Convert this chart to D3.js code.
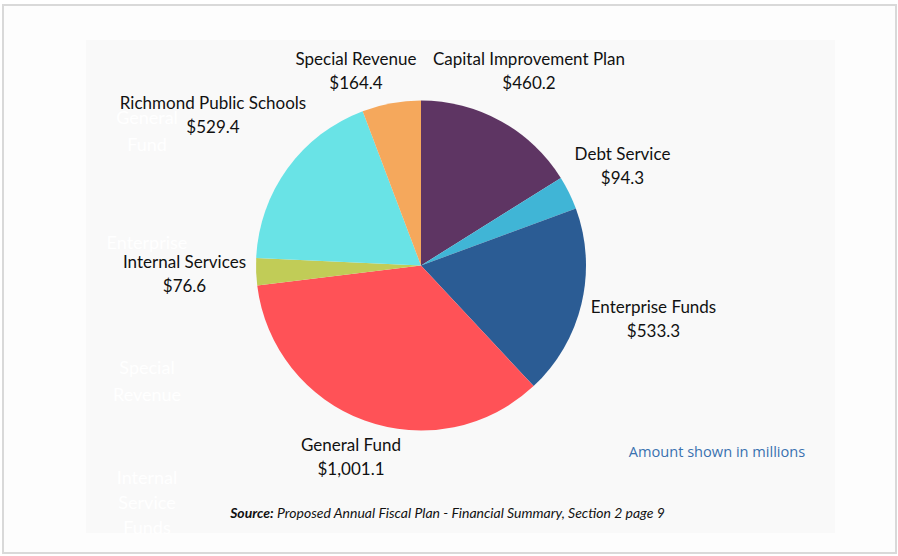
<!DOCTYPE html>
<html>
<head>
<meta charset="utf-8">
<script src="https://cdn.jsdelivr.net/npm/d3@7/dist/d3.min.js"></script>
<style>
  html, body { margin: 0; padding: 0; background: #ffffff; }
  svg { display: block; }
</style>
</head>
<body>
<svg id="chart" width="898" height="556"></svg>
<script>
// ---- data ----
const categories = ["Capital Improvement Plan", "Debt Service", "Enterprise Funds", "General Fund",
                    "Internal Services", "Richmond Public Schools", "Special Revenue"];
const values = [460.2, 94.3, 533.3, 1001.1, 76.6, 529.4, 164.4];
const valueLabels = ["$460.2", "$94.3", "$533.3", "$1,001.1", "$76.6", "$529.4", "$164.4"];
const colors = ["#5e3563", "#40b5d6", "#2b5c94", "#ff5257", "#c1cc57", "#69e3e6", "#f5a85c"];
const ghostLabels = [["General", "Fund"], ["Enterprise"], ["Special", "Revenue"], ["Internal", "Service", "Funds"]];
const note = "Amount shown in millions";
const sourceBold = "Source:";
const sourceText = " Proposed Annual Fiscal Plan - Financial Summary, Section 2 page 9";

// ---- layout ----
const svg = d3.select("#chart");
const cx = 421, cy = 265.5, R = 165;

// outer frame
svg.append("rect").attr("x", 3).attr("y", 5).attr("width", 893).attr("height", 548)
  .attr("fill", "#fdfdfd").attr("stroke", "#d9d9d9").attr("stroke-width", 2);
// inner panel
svg.append("rect").attr("x", 86).attr("y", 40).attr("width", 749).attr("height", 493)
  .attr("fill", "#f9f9f9");

// faint white text on the left (as in the reference)
const ghostPos = [[118, 145], [243], [368, 395], [478, 503, 528]];
const ghostG = svg.append("g").attr("font-family", "Lato, 'Open Sans', sans-serif")
  .attr("font-size", 18).attr("fill", "#ffffff").attr("text-anchor", "middle");
ghostLabels.forEach((lines, i) => {
  lines.forEach((t, j) => {
    ghostG.append("text").attr("x", 147).attr("y", ghostPos[i][j] + 6).text(t);
  });
});

// pie
const data = categories.map((c, i) => ({ name: c, value: values[i], label: valueLabels[i], color: colors[i] }));
const pie = d3.pie().value(d => d.value).sort(null).startAngle(0).endAngle(2 * Math.PI);
const arc = d3.arc().innerRadius(0).outerRadius(R);
const arcs = pie(data);

const g = svg.append("g").attr("transform", `translate(${cx},${cy})`);
g.selectAll("path").data(arcs).enter().append("path")
  .attr("d", arc).attr("fill", d => d.data.color);

// labels
const labelPos = {
  "Capital Improvement Plan": [529, 65],
  "Debt Service": [622.5, 160],
  "Enterprise Funds": [653.5, 313],
  "General Fund": [351, 451],
  "Internal Services": [184.5, 268],
  "Richmond Public Schools": [213, 108.5],
  "Special Revenue": [356, 65]
};
const lg = svg.append("g").attr("font-family", "Lato, 'Open Sans', sans-serif")
  .attr("font-size", 17).attr("fill", "#111").attr("text-anchor", "middle");
arcs.forEach(a => {
  const p = labelPos[a.data.name];
  lg.append("text").attr("x", p[0]).attr("y", p[1]).text(a.data.name);
  lg.append("text").attr("x", p[0]).attr("y", p[1] + 24).text(a.data.label);
});

// note
svg.append("text").attr("x", 717).attr("y", 457).attr("text-anchor", "middle")
  .attr("font-family", "'Open Sans', 'Noto Sans', sans-serif").attr("font-size", 14.6)
  .attr("fill", "#3a72b0").text(note);

// source
const src = svg.append("text").attr("x", 447.5).attr("y", 518).attr("text-anchor", "middle")
  .attr("font-family", "Lato, 'Open Sans', sans-serif").attr("font-size", 14)
  .attr("font-style", "italic").attr("fill", "#111");
src.append("tspan").attr("font-weight", "bold").text(sourceBold);
src.append("tspan").text(sourceText);
</script>
</body>
</html>
